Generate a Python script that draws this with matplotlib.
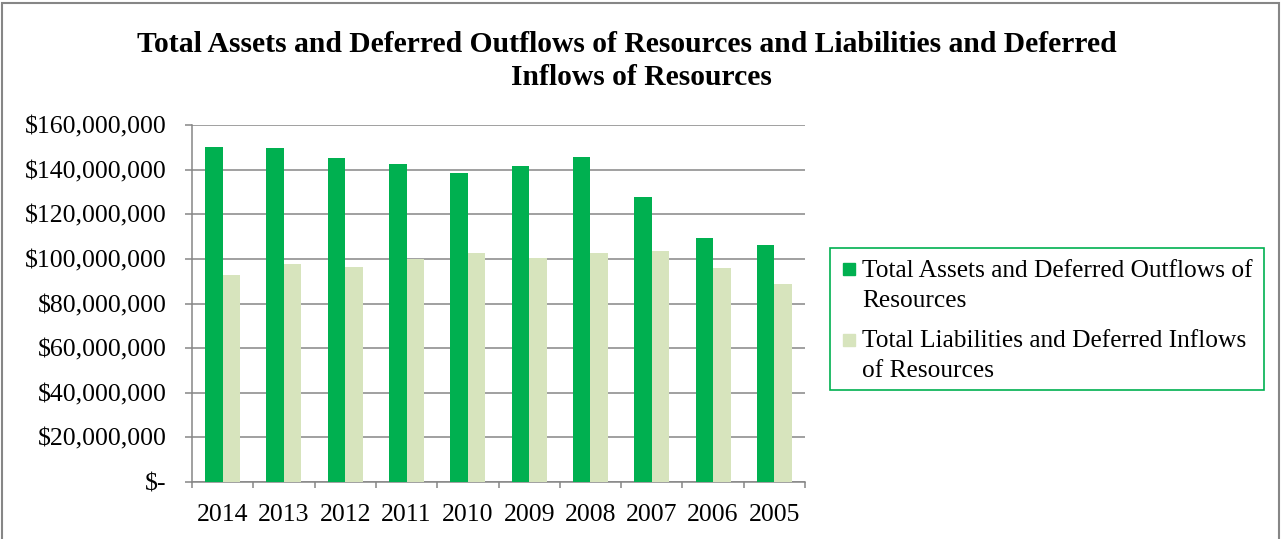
import numpy as np
import matplotlib
matplotlib.use("Agg")
import matplotlib.pyplot as plt
from matplotlib.patches import Rectangle
from matplotlib.ticker import FuncFormatter

years = ["2014", "2013", "2012", "2011", "2010", "2009", "2008", "2007", "2006", "2005"]
assets = [150.1, 149.9, 145.2, 142.5, 138.3, 141.6, 145.7, 127.7, 109.3, 106.3]
liabilities = [92.8, 97.8, 96.4, 100.0, 102.6, 100.6, 102.7, 103.4, 95.7, 88.8]
assets = np.array(assets) * 1e6
liabilities = np.array(liabilities) * 1e6

title_lines = ["Total Assets and Deferred Outflows of Resources and Liabilities and Deferred",
               "Inflows of Resources"]
labels = ["Total Assets and Deferred Outflows of\nResources",
          "Total Liabilities and Deferred Inflows\nof Resources"]

green = "#00B050"
light = "#D7E4BD"
grey = "#868686"

plt.rcParams["font.family"] = ["Liberation Serif", "DejaVu Serif"]

W, H = 1283, 539
fig = plt.figure(figsize=(W / 100, H / 100), dpi=100)
ax = fig.add_axes([192 / W, 1 - 482 / H, (805 - 192) / W, (482 - 125) / H])

x = np.arange(len(years))
bw = 1 / 3.5
ax.bar(x - bw / 2, assets, bw, color=green, zorder=3)
ax.bar(x + bw / 2, liabilities, bw, color=light, zorder=3)

ax.set_xlim(-0.5, len(years) - 0.5)
ax.set_ylim(0, 160e6)
ax.set_yticks(np.arange(0, 160e6 + 1, 20e6))
ax.yaxis.set_major_formatter(FuncFormatter(lambda v, p: "$-" if v == 0 else "${:,.0f}".format(v)))
ax.grid(axis="y", color=grey, lw=1.1, zorder=0)

ax.set_xticks(x)
ax.set_xticklabels(years)
ax.set_xticks(np.arange(-0.5, len(years)), minor=True)
ax.tick_params(axis="x", which="major", length=0, pad=16, labelsize=18.5)
ax.tick_params(axis="x", which="minor", length=4, width=1.1, color=grey, direction="out")
ax.tick_params(axis="y", length=5, width=1.1, color=grey, pad=13.3, labelsize=18.5)

for s in ["top", "right"]:
    ax.spines[s].set_visible(False)
for s in ["left", "bottom"]:
    ax.spines[s].set_color(grey)
    ax.spines[s].set_linewidth(1.1)

# title, two lines as Excel wraps it
fig.text(627 / W, 1 - 52 / H, title_lines[0], ha="center", va="baseline",
         fontsize=21.3, fontweight="bold")
fig.text(641 / W, 1 - 85 / H, title_lines[1], ha="center", va="baseline",
         fontsize=21.3, fontweight="bold")

# legend box, drawn by hand so the marker sits on the first line
fig.patches.append(Rectangle((830 / W, 1 - 390 / H), (1264 - 830) / W, (390 - 248) / H,
                             transform=fig.transFigure, fill=False,
                             edgecolor=green, lw=1.2))
for color, label, mark_top, last_base in zip([green, light], labels, [263, 334], [307, 377]):
    fig.patches.append(Rectangle((843 / W, 1 - (mark_top + 12) / H), 12 / W, 12 / H,
                                 transform=fig.transFigure, color=color))
    fig.text(862 / W, 1 - last_base / H, label, ha="left", va="baseline",
             fontsize=18.25, linespacing=1.45)

fig.patches.append(Rectangle((2 / W, -0.1), (1279 - 2) / W, 1.1 - 3 / H,
                             transform=fig.transFigure, fill=False,
                             edgecolor=grey, lw=1.5))

fig.savefig("out.png", dpi=100)
